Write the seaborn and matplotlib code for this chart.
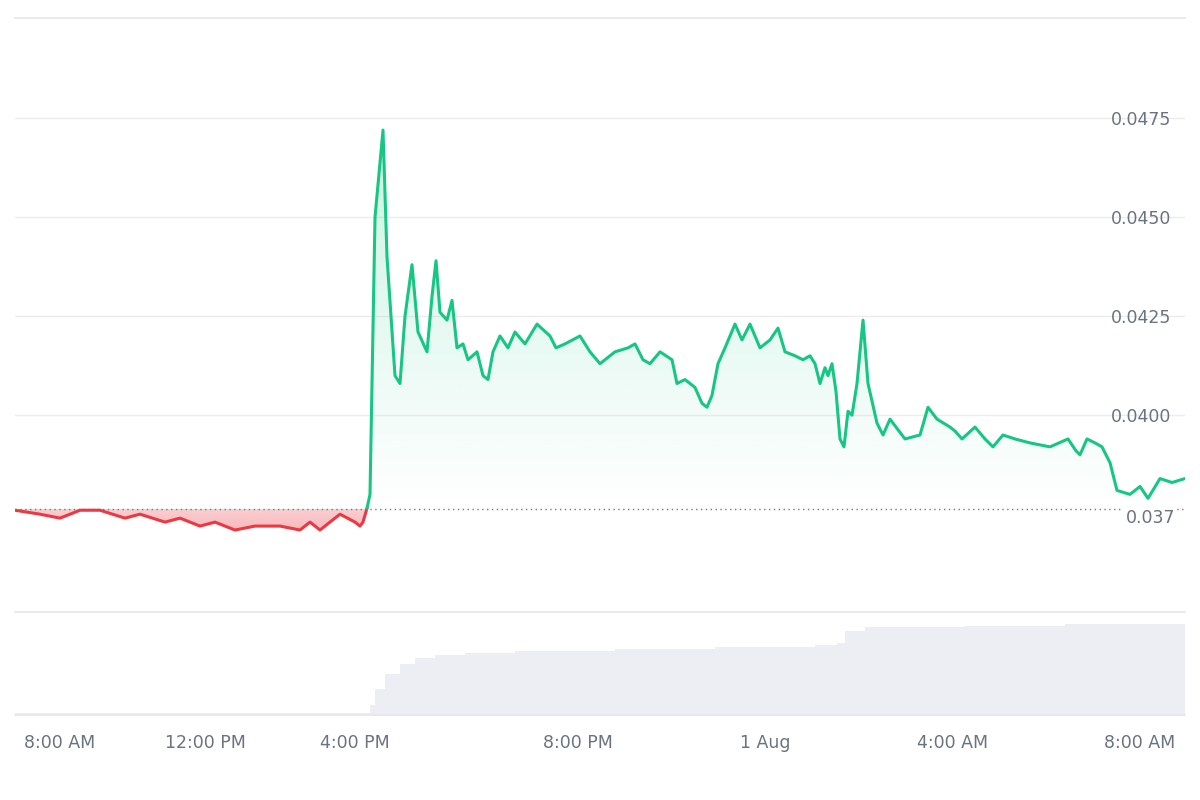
import numpy as np
import pandas as pd
import matplotlib
matplotlib.use("Agg")
import matplotlib.pyplot as plt
import seaborn as sns
from matplotlib.patches import Polygon

# time axis in chart steps (≈1.28 min each)
red_t = [0, 25, 45, 65, 85, 110, 125, 150, 165, 185, 200, 220, 240, 265, 285, 295, 305, 325, 340, 345, 348, 352]
red_p = [0.0376, 0.0375, 0.0374, 0.0376, 0.0376, 0.0374, 0.0375, 0.0373, 0.0374, 0.0372, 0.0373, 0.0371,
         0.0372, 0.0372, 0.0371, 0.0373, 0.0371, 0.0375, 0.0373, 0.0372, 0.0373, 0.03765]
green_t = [352, 355, 360, 368, 372, 380, 385, 390, 397, 403, 412, 417, 421, 425, 432, 437, 442, 448, 453,
           462, 468, 473, 478, 485, 493, 500, 510, 522, 535, 541, 550, 565, 575, 585, 600, 613, 620, 628,
           635, 645, 657, 662, 670, 680, 687, 692, 697, 703, 710, 720, 727, 735, 745, 755, 763, 770, 780,
           788, 795, 800, 805, 810, 813, 817, 821, 825, 829, 833, 837, 842, 848, 853, 862, 868, 875, 890,
           905, 913, 922, 935, 940, 947, 960, 970, 978, 988, 1000, 1015, 1035, 1053, 1061, 1065, 1072,
           1080, 1087, 1095, 1102, 1115, 1125, 1133, 1145, 1157, 1170]
green_p = [0.03765, 0.0380, 0.0450, 0.0472, 0.0440, 0.0410, 0.0408, 0.0425, 0.0438, 0.0421, 0.0416,
           0.0430, 0.0439, 0.0426, 0.0424, 0.0429, 0.0417, 0.0418, 0.0414, 0.0416, 0.0410, 0.0409, 0.0416,
           0.0420, 0.0417, 0.0421, 0.0418, 0.0423, 0.0420, 0.0417, 0.0418, 0.0420, 0.0416, 0.0413, 0.0416,
           0.0417, 0.0418, 0.0414, 0.0413, 0.0416, 0.0414, 0.0408, 0.0409, 0.0407, 0.0403, 0.0402, 0.0405,
           0.0413, 0.0417, 0.0423, 0.0419, 0.0423, 0.0417, 0.0419, 0.0422, 0.0416, 0.0415, 0.0414, 0.0415,
           0.0413, 0.0408, 0.0412, 0.0410, 0.0413, 0.0406, 0.0394, 0.0392, 0.0401, 0.0400, 0.0408, 0.0424,
           0.0408, 0.0398, 0.0395, 0.0399, 0.0394, 0.0395, 0.0402, 0.0399, 0.0397, 0.0396, 0.0394, 0.0397,
           0.0394, 0.0392, 0.0395, 0.0394, 0.0393, 0.0392, 0.0394, 0.0391, 0.0390, 0.0394, 0.0393, 0.0392,
           0.0388, 0.0381, 0.0380, 0.0382, 0.0379, 0.0384, 0.0383, 0.0384][:0] or None
green_p = [0.03765, 0.0380, 0.0450, 0.0472, 0.0440, 0.0410, 0.0408, 0.0425, 0.0438, 0.0421, 0.0416,
           0.0430, 0.0439, 0.0426, 0.0424, 0.0429, 0.0417, 0.0418, 0.0414, 0.0416, 0.0410, 0.0409, 0.0416,
           0.0420, 0.0417, 0.0421, 0.0418, 0.0423, 0.0420, 0.0417, 0.0418, 0.0420, 0.0416, 0.0413, 0.0416,
           0.0417, 0.0418, 0.0414, 0.0413, 0.0416, 0.0414, 0.0408, 0.0409, 0.0407, 0.0403, 0.0402, 0.0405,
           0.0413, 0.0417, 0.0423, 0.0419, 0.0423, 0.0417, 0.0419, 0.0422, 0.0416, 0.0415, 0.0414, 0.0415,
           0.0413, 0.0408, 0.0412, 0.0410, 0.0413, 0.0406, 0.0394, 0.0392, 0.0401, 0.0400, 0.0408, 0.0424,
           0.0408, 0.0398, 0.0395, 0.0399, 0.0394, 0.0395, 0.0402, 0.0399, 0.0397, 0.0396, 0.0394, 0.0397,
           0.0394, 0.0392, 0.0395, 0.0394, 0.0393, 0.0392, 0.0394, 0.0391, 0.0390, 0.0394, 0.0393, 0.0392,
           0.0388, 0.0381, 0.0380, 0.0382, 0.0379, 0.0384, 0.0383, 0.0384, 0.0386, 0.0385, 0.0383, 0.0384]
n = min(len(green_t), len(green_p))
green_t, green_p = green_t[:n], green_p[:n]

vol_t = [0, 350, 355, 360, 370, 385, 400, 420, 450, 500, 600, 700, 800, 822, 830, 850, 950, 1050, 1170]
vol_v = [0.02, 0.02, 0.10, 0.25, 0.40, 0.50, 0.55, 0.58, 0.60, 0.62, 0.64, 0.66, 0.68, 0.70, 0.82, 0.85, 0.86, 0.88, 0.90]

base = 0.03763
tick_pos = [45, 190, 340, 563, 750, 938, 1125]
tick_lab = ["8:00 AM", "12:00 PM", "4:00 PM", "8:00 PM", "1 Aug", "4:00 AM", "8:00 AM"]
y_ticks = [0.0400, 0.0425, 0.0450, 0.0475]

GREEN = "#16c784"; RED = "#ea3943"; GREY = "#6b7280"
sns.set_theme(style="white")
fig = plt.figure(figsize=(12, 8), dpi=100)
ax = fig.add_axes([15/1200, 188/800, 1170/1200, 594/800])
axv = fig.add_axes([15/1200, 85/800, 1170/1200, 103/800], sharex=ax)
ylo, yhi = 0.03503, 0.05003
ax.set_xlim(0, 1170); ax.set_ylim(ylo, yhi)

# gradient fills
def grad_fill(t, p, color, above):
    rgb = matplotlib.colors.to_rgb(color)
    if above:
        top, bot = max(p), base
        alph = np.linspace(0.0, 0.22, 256)[:, None]
    else:
        top, bot = base, min(p)
        alph = np.linspace(0.35, 0.25, 256)[:, None]
    img = np.zeros((256, 1, 4)); img[..., :3] = rgb; img[..., 3] = alph
    im = ax.imshow(img, extent=[min(t), max(t), bot, top], origin="lower", aspect="auto", zorder=1)
    verts = [(t[0], base)] + list(zip(t, p)) + [(t[-1], base)]
    poly = Polygon(verts, closed=True, facecolor="none", edgecolor="none")
    ax.add_patch(poly); im.set_clip_path(poly)

grad_fill(green_t, green_p, GREEN, True)
grad_fill(red_t, red_p, RED, False)
ax.set_xlim(0, 1170); ax.set_ylim(ylo, yhi)

sns.lineplot(x=red_t, y=red_p, ax=ax, color=RED, lw=2.2, zorder=3)
sns.lineplot(x=green_t, y=green_p, ax=ax, color=GREEN, lw=2.2, zorder=3)
ax.axhline(base, color="#777777", ls=(0, (1, 2.5)), lw=1, zorder=2)

ax.set_yticks(y_ticks)
ax.yaxis.tick_right()
ax.tick_params(axis="y", direction="in", length=0, pad=-10, labelsize=12.5, labelcolor=GREY)
for lab in ax.get_yticklabels():
    lab.set_horizontalalignment("right")
ax.set_yticklabels(["0.0400", "0.0425", "0.0450", "0.0475"])
ax.grid(axis="y", color="#ececec", lw=1)
ax.text(1160, base, "0.037", ha="right", va="top", fontsize=12.5, color=GREY,
        bbox=dict(facecolor="white", edgecolor="none", pad=1.5), zorder=4)
for s in ["left", "right", "bottom"]:
    ax.spines[s].set_visible(False)
ax.spines["top"].set_color("#e5e7eb")
ax.tick_params(axis="x", bottom=False, labelbottom=False)

axv.fill_between(vol_t, 0, vol_v, step="post", color="#eceef3", lw=0)
axv.set_ylim(0, 1)
axv.set_yticks([])
axv.set_xticks(tick_pos)
axv.set_xticklabels(tick_lab)
axv.tick_params(axis="x", length=0, labelsize=12.5, labelcolor=GREY, pad=14)
for s in ["left", "right"]:
    axv.spines[s].set_visible(False)
axv.spines["top"].set_color("#e5e7eb")
axv.spines["bottom"].set_color("#e5e7eb")
fig.savefig("out.png", facecolor="white")
